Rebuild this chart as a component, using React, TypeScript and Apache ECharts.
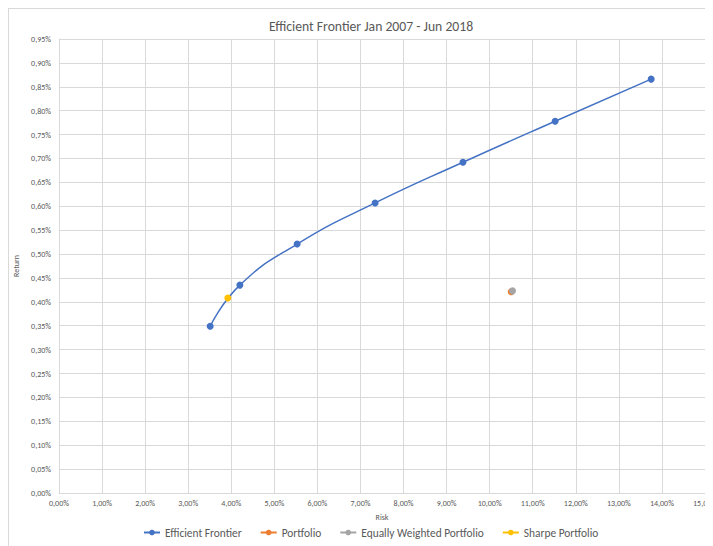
import React, { useEffect, useRef } from "react";
import * as echarts from "echarts";

// Risk (%) and return (%) pairs along the frontier
const frontierRisk = [3.51, 4.2, 5.53, 7.34, 9.38, 11.52, 13.75];
const frontierReturn = [0.349, 0.435, 0.521, 0.607, 0.692, 0.778, 0.866];

const portfolioRisk = [10.5];
const portfolioReturn = [0.421];

const equalRisk = [10.53];
const equalReturn = [0.423];

const sharpeRisk = [3.92];
const sharpeReturn = [0.408];

const seriesNames = [
  "Efficient Frontier",
  "Portfolio",
  "Equally Weighted Portfolio",
  "Sharpe Portfolio",
];
const seriesColors = ["#4472C4", "#ED7D31", "#A5A5A5", "#FFC000"];

const FONT = "Carlito, 'Liberation Sans Narrow', 'Open Sans', sans-serif";
const TEXT = "#595959";
const GRID = "#d9d9d9";

const pairs = (xs: number[], ys: number[]) => xs.map((x, i) => [x, ys[i]]);
const pct = (v: number) => v.toFixed(2).replace(".", ",") + "%";

export default function App() {
  const ref = useRef<HTMLDivElement>(null);

  useEffect(() => {
    document.body.style.overflow = "hidden";
    const chart = echarts.init(ref.current!, null, { renderer: "svg" });
    const point = (i: number, data: number[][], smooth = false) => ({
      name: seriesNames[i],
      type: "line",
      data,
      smooth,
      symbol: "circle",
      symbolSize: 7,
      showSymbol: true,
      itemStyle: { color: seriesColors[i] },
      lineStyle: { color: seriesColors[i], width: 1.5 },
    });
    chart.setOption({
      animation: false,
      backgroundColor: "#ffffff",
      title: {
        text: "Efficient Frontier Jan 2007 - Jun 2018",
        left: 255,
        top: 5,
        textStyle: { fontFamily: FONT, fontSize: 13.7, fontWeight: "normal", color: TEXT },
      },
      grid: {
        left: 50,
        top: 30,
        width: 646,
        height: 454,
        containLabel: false,
        outerBoundsMode: "none",
      },
      xAxis: {
        type: "value",
        min: 0,
        max: 15,
        interval: 1,
        name: "Risk",
        nameLocation: "middle",
        nameGap: 20,
        nameTextStyle: { fontFamily: FONT, fontSize: 8, color: TEXT },
        axisLine: { lineStyle: { color: GRID } },
        axisTick: { show: false },
        axisLabel: { formatter: pct, fontFamily: FONT, fontSize: 8, color: TEXT, margin: 6 },
        splitLine: { show: true, lineStyle: { color: GRID } },
      },
      yAxis: {
        type: "value",
        min: 0,
        max: 0.95,
        interval: 0.05,
        name: "Return",
        nameLocation: "middle",
        nameGap: 37,
        nameTextStyle: { fontFamily: FONT, fontSize: 8, color: TEXT },
        axisLine: { show: true, lineStyle: { color: GRID } },
        axisTick: { show: false },
        axisLabel: { formatter: pct, fontFamily: FONT, fontSize: 8, color: TEXT, margin: 8 },
        splitLine: { show: true, lineStyle: { color: GRID } },
      },
      legend: {
        bottom: 3,
        left: 129,
        itemWidth: 16,
        itemHeight: 7,
        itemGap: 18,
        data: seriesNames,
        textStyle: { fontFamily: FONT, fontSize: 11.4, color: TEXT },
      },
      series: [
        point(0, pairs(frontierRisk, frontierReturn), true),
        point(1, pairs(portfolioRisk, portfolioReturn)),
        point(2, pairs(equalRisk, equalReturn)),
        point(3, pairs(sharpeRisk, sharpeReturn)),
      ],
    });
    return () => chart.dispose();
  }, []);

  return (
    <div
      ref={ref}
      style={{
        width: 704,
        height: 537,
        borderLeft: "1px solid #d9d9d9",
        borderTop: "1px solid #d9d9d9",
      }}
    />
  );
}
